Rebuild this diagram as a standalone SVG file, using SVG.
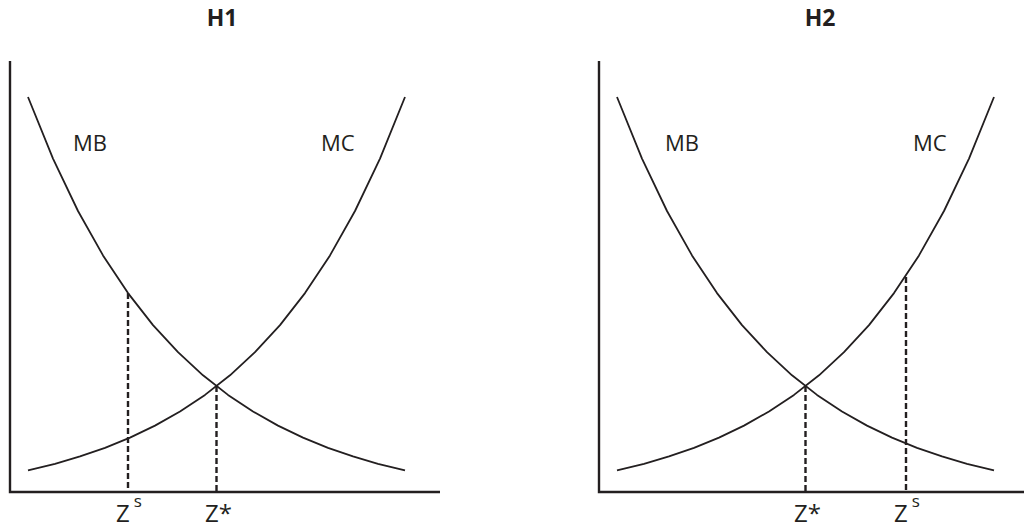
<svg xmlns="http://www.w3.org/2000/svg" width="1024" height="529" viewBox="0 0 1024 529">
<style>
.axis{fill:none;stroke:#231f20;stroke-width:2.4}
.curve{fill:none;stroke:#231f20;stroke-width:1.8;stroke-linejoin:round}
.dash{fill:none;stroke:#231f20;stroke-width:2.4;stroke-dasharray:6,3}
.t{font-family:"Open Sans","Liberation Sans",sans-serif;fill:#231f20;font-size:22px}
.z{font-family:"Open Sans","Liberation Sans",sans-serif;fill:#231f20;font-size:24px}
.title{font-family:"Open Sans","Liberation Sans",sans-serif;fill:#231f20;font-size:23px;font-weight:bold}
</style>
<rect width="1024" height="529" fill="#fff"/>
<g id="panel-h1">
<text class="title" x="222" y="26" text-anchor="middle">H1</text>
<path class="axis" d="M10,61 V492 H440"/>
<polyline class="curve" points="28,97 53,158.6 78,211 103,255.4 128,293.1 153,325.1 178,352.2 203,375.3 228,394.9 253,411.5 278,425.6 303,437.6 328,447.8 353,456.4 378,463.8 405,470.4"/>
<polyline class="curve" points="405,97 380,158.6 355,211 330,255.4 305,293.1 280,325.1 255,352.2 230,375.3 205,394.9 180,411.5 155,425.6 130,437.6 105,447.8 80,456.4 55,463.8 28,470.4"/>
<line class="dash" x1="128" y1="293" x2="128" y2="492"/>
<line class="dash" x1="216.5" y1="386" x2="216.5" y2="492"/>
<text class="t" x="73" y="151">MB</text>
<text class="t" x="321" y="151">MC</text>
<text class="z" x="116" y="522">Z<tspan font-size="17" dy="-15" dx="4">s</tspan></text>
<text class="z" x="205" y="522">Z*</text>
</g>
<g id="panel-h2">
<text class="title" x="820" y="26" text-anchor="middle">H2</text>
<path class="axis" d="M599,61 V492 H1024"/>
<polyline class="curve" points="617,97 642,158.6 667,211 692,255.4 717,293.1 742,325.1 767,352.2 792,375.3 817,394.9 842,411.5 867,425.6 892,437.6 917,447.8 942,456.4 967,463.8 994,470.4"/>
<polyline class="curve" points="994,97 969,158.6 944,211 919,255.4 894,293.1 869,325.1 844,352.2 819,375.3 794,394.9 769,411.5 744,425.6 719,437.6 694,447.8 669,456.4 644,463.8 617,470.4"/>
<line class="dash" x1="805.5" y1="386" x2="805.5" y2="492"/>
<line class="dash" x1="906" y1="277" x2="906" y2="492"/>
<text class="t" x="665" y="151">MB</text>
<text class="t" x="913" y="151">MC</text>
<text class="z" x="794" y="522">Z*</text>
<text class="z" x="894" y="522">Z<tspan font-size="17" dy="-15" dx="4">s</tspan></text>
</g>
</svg>
